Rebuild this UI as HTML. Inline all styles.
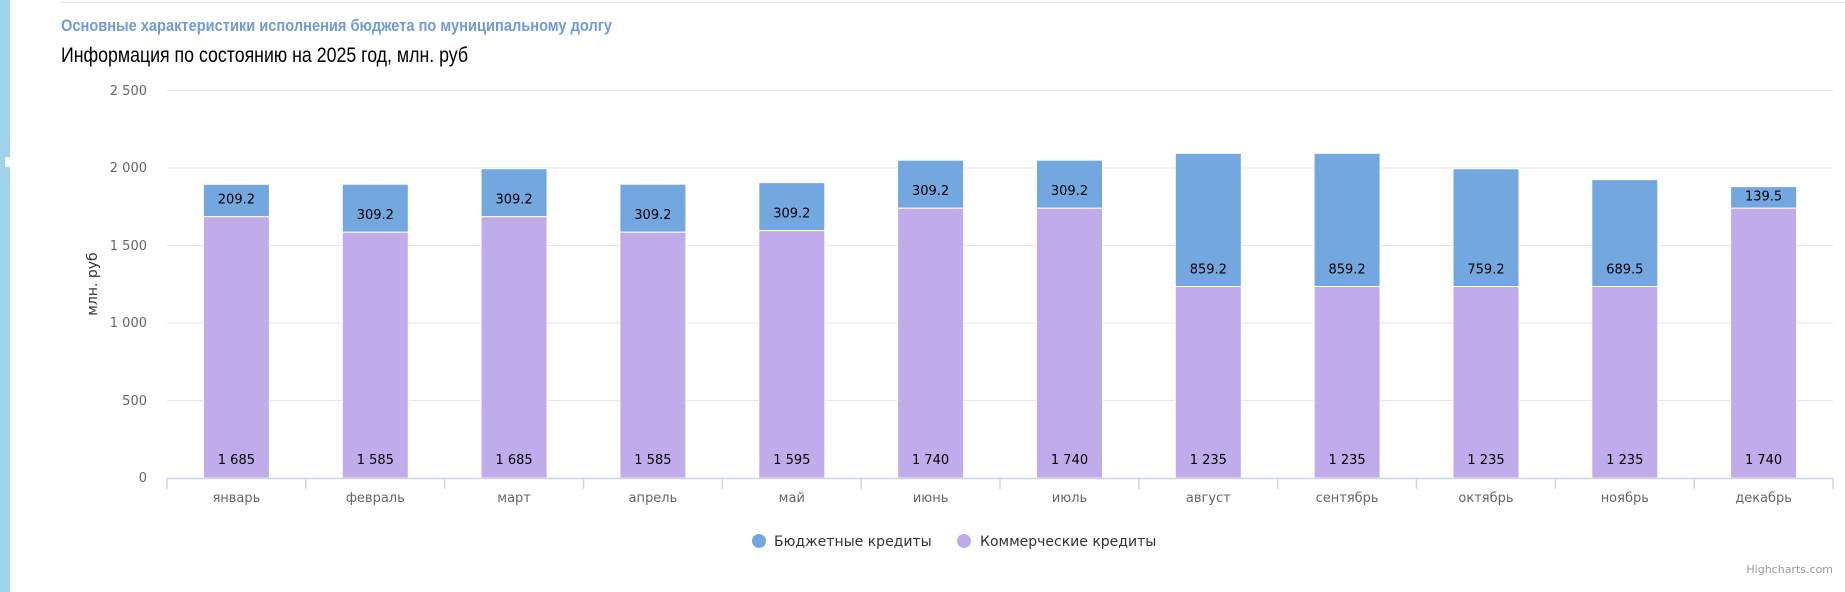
<!DOCTYPE html>
<html><head><meta charset="utf-8"><style>
html,body{margin:0;padding:0;background:#fff;width:1845px;height:592px;overflow:hidden}
svg{display:block}
.yl{font-family:"DejaVu Sans","Liberation Sans",sans-serif;font-size:13px;fill:#666;text-anchor:end}
.xl{font-family:"DejaVu Sans","Liberation Sans",sans-serif;font-size:13px;fill:#666;text-anchor:middle}
.dl{font-family:"DejaVu Sans","Liberation Sans",sans-serif;font-size:13px;fill:#000;text-anchor:middle}
.lg{font-family:"DejaVu Sans","Liberation Sans",sans-serif;font-size:14px;fill:#333}
</style></head><body>
<svg width="1845" height="592" xmlns="http://www.w3.org/2000/svg">
<rect x="0" y="0" width="10" height="592" fill="#9fd3ec"/>
<rect x="5" y="157" width="5" height="10" rx="2" fill="#fff"/>
<line x1="61" y1="2.5" x2="1845" y2="2.5" stroke="#e6e6e6" stroke-width="1"/>
<text x="61" y="31" font-family="'Liberation Sans Narrow','Liberation Sans',sans-serif" font-weight="bold" font-size="17" fill="#6f9bd8" textLength="551" lengthAdjust="spacingAndGlyphs">Основные характеристики исполнения бюджета по муниципальному долгу</text>
<text x="61" y="62" font-family="'Liberation Sans Narrow','Liberation Sans',sans-serif" font-size="21" fill="#000" textLength="407" lengthAdjust="spacingAndGlyphs">Информация по состоянию на 2025 год, млн. руб</text>
<g stroke="#e6e6e6" stroke-width="1">
<line x1="167" y1="90.5" x2="1833" y2="90.5"/>
<line x1="167" y1="168" x2="1833" y2="168"/>
<line x1="167" y1="245.5" x2="1833" y2="245.5"/>
<line x1="167" y1="323" x2="1833" y2="323"/>
<line x1="167" y1="400.5" x2="1833" y2="400.5"/>
</g>
<g class="yl">
<text class="yl" x="147" y="95">2 500</text>
<text class="yl" x="147" y="172">2 000</text>
<text class="yl" x="147" y="250">1 500</text>
<text class="yl" x="147" y="327">1 000</text>
<text class="yl" x="147" y="405">500</text>
<text class="yl" x="147" y="482">0</text>
</g>
<text transform="translate(97,284) rotate(-90)" text-anchor="middle" font-family="'DejaVu Sans','Liberation Sans',sans-serif" font-size="14" fill="#333">млн. руб</text>
<g stroke="#fff" stroke-width="1">
<rect x="203.4" y="184.3" width="66" height="32.4" fill="#73a7e0"/><rect x="203.4" y="216.7" width="66" height="261.3" fill="#c0aceb"/>
<rect x="342.3" y="184.2" width="66" height="48" fill="#73a7e0"/><rect x="342.3" y="232.2" width="66" height="245.8" fill="#c0aceb"/>
<rect x="481.1" y="168.7" width="66" height="48" fill="#73a7e0"/><rect x="481.1" y="216.7" width="66" height="261.3" fill="#c0aceb"/>
<rect x="619.9" y="184.2" width="66" height="48" fill="#73a7e0"/><rect x="619.9" y="232.2" width="66" height="245.8" fill="#c0aceb"/>
<rect x="758.8" y="182.6" width="66" height="48" fill="#73a7e0"/><rect x="758.8" y="230.6" width="66" height="247.4" fill="#c0aceb"/>
<rect x="897.6" y="160.2" width="66" height="48" fill="#73a7e0"/><rect x="897.6" y="208.2" width="66" height="269.8" fill="#c0aceb"/>
<rect x="1036.5" y="160.2" width="66" height="48" fill="#73a7e0"/><rect x="1036.5" y="208.2" width="66" height="269.8" fill="#c0aceb"/>
<rect x="1175.3" y="153.3" width="66" height="133.2" fill="#73a7e0"/><rect x="1175.3" y="286.5" width="66" height="191.5" fill="#c0aceb"/>
<rect x="1314.1" y="153.3" width="66" height="133.2" fill="#73a7e0"/><rect x="1314.1" y="286.5" width="66" height="191.5" fill="#c0aceb"/>
<rect x="1453" y="168.8" width="66" height="117.7" fill="#73a7e0"/><rect x="1453" y="286.5" width="66" height="191.5" fill="#c0aceb"/>
<rect x="1591.8" y="179.6" width="66" height="106.9" fill="#73a7e0"/><rect x="1591.8" y="286.5" width="66" height="191.5" fill="#c0aceb"/>
<rect x="1730.6" y="186.6" width="66" height="21.6" fill="#73a7e0"/><rect x="1730.6" y="208.2" width="66" height="269.8" fill="#c0aceb"/>
</g>
<g class="dl">
<text class="dl" x="236.4" y="203.5">209.2</text>
<text class="dl" x="375.3" y="219">309.2</text>
<text class="dl" x="514.1" y="203.5">309.2</text>
<text class="dl" x="652.9" y="219">309.2</text>
<text class="dl" x="791.8" y="217.4">309.2</text>
<text class="dl" x="930.6" y="195">309.2</text>
<text class="dl" x="1069.5" y="195">309.2</text>
<text class="dl" x="1208.3" y="273.3">859.2</text>
<text class="dl" x="1347.1" y="273.3">859.2</text>
<text class="dl" x="1486" y="273.3">759.2</text>
<text class="dl" x="1624.8" y="273.3">689.5</text>
<text class="dl" x="1763.6" y="200.5">139.5</text>
<text class="dl" x="236.4" y="464">1 685</text>
<text class="dl" x="375.3" y="464">1 585</text>
<text class="dl" x="514.1" y="464">1 685</text>
<text class="dl" x="652.9" y="464">1 585</text>
<text class="dl" x="791.8" y="464">1 595</text>
<text class="dl" x="930.6" y="464">1 740</text>
<text class="dl" x="1069.5" y="464">1 740</text>
<text class="dl" x="1208.3" y="464">1 235</text>
<text class="dl" x="1347.1" y="464">1 235</text>
<text class="dl" x="1486" y="464">1 235</text>
<text class="dl" x="1624.8" y="464">1 235</text>
<text class="dl" x="1763.6" y="464">1 740</text>
</g>
<line x1="167" y1="478.5" x2="1833" y2="478.5" stroke="#ccd6eb" stroke-width="1.5"/>
<g stroke="#ccd6eb" stroke-width="1.5">
<line x1="167" y1="478" x2="167" y2="489"/><line x1="305.8" y1="478" x2="305.8" y2="489"/>
<line x1="444.7" y1="478" x2="444.7" y2="489"/><line x1="583.5" y1="478" x2="583.5" y2="489"/>
<line x1="722.3" y1="478" x2="722.3" y2="489"/><line x1="861.2" y1="478" x2="861.2" y2="489"/>
<line x1="1000" y1="478" x2="1000" y2="489"/><line x1="1138.8" y1="478" x2="1138.8" y2="489"/>
<line x1="1277.7" y1="478" x2="1277.7" y2="489"/><line x1="1416.5" y1="478" x2="1416.5" y2="489"/>
<line x1="1555.3" y1="478" x2="1555.3" y2="489"/><line x1="1694.2" y1="478" x2="1694.2" y2="489"/>
<line x1="1833" y1="478" x2="1833" y2="489"/>
</g>
<g class="xl">
<text class="xl" x="236.4" y="502">январь</text>
<text class="xl" x="375.3" y="502">февраль</text>
<text class="xl" x="514.1" y="502">март</text>
<text class="xl" x="652.9" y="502">апрель</text>
<text class="xl" x="791.8" y="502">май</text>
<text class="xl" x="930.6" y="502">июнь</text>
<text class="xl" x="1069.5" y="502">июль</text>
<text class="xl" x="1208.3" y="502">август</text>
<text class="xl" x="1347.1" y="502">сентябрь</text>
<text class="xl" x="1486" y="502">октябрь</text>
<text class="xl" x="1624.8" y="502">ноябрь</text>
<text class="xl" x="1763.6" y="502">декабрь</text>
</g>
<circle cx="759" cy="541" r="7" fill="#73a7e0"/>
<text class="lg" x="774" y="546">Бюджетные кредиты</text>
<circle cx="964" cy="541" r="7" fill="#c0aceb"/>
<text class="lg" x="980" y="546">Коммерческие кредиты</text>
<text x="1833" y="573" text-anchor="end" font-family="'DejaVu Sans','Liberation Sans',sans-serif" font-size="11" fill="#999">Highcharts.com</text>
</svg>
</body></html>
